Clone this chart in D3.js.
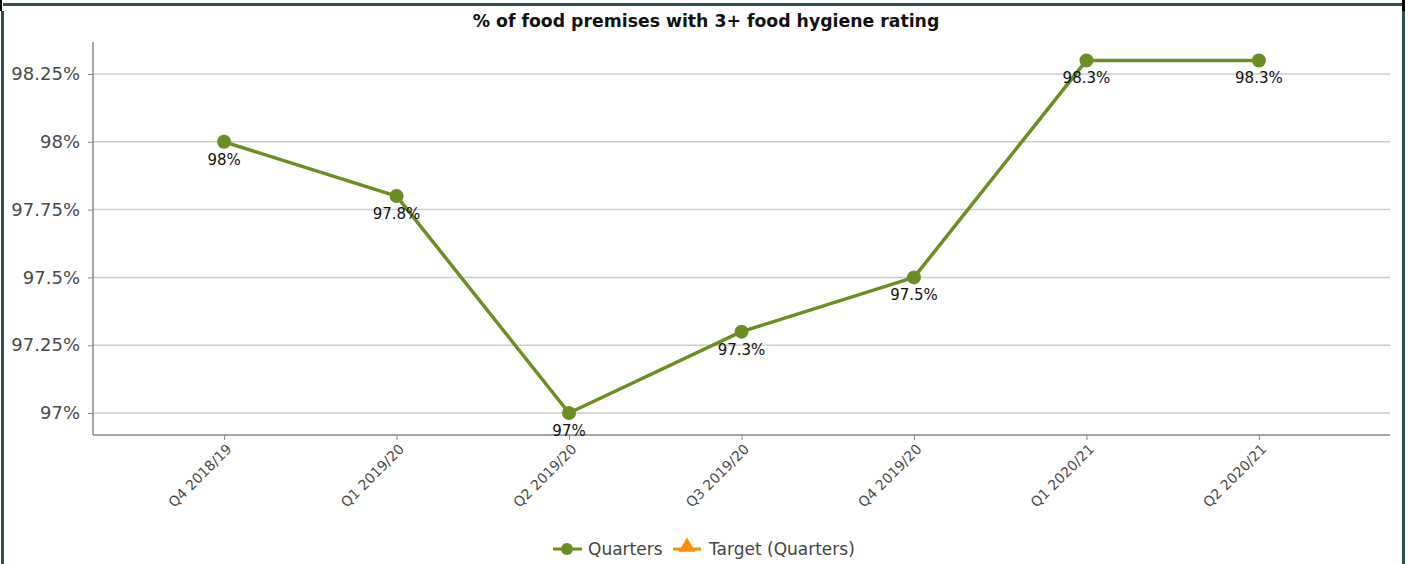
<!DOCTYPE html>
<html>
<head>
<meta charset="utf-8">
<script src="https://cdn.jsdelivr.net/npm/d3@7"></script>
<style>
  html, body { margin: 0; padding: 0; background: #fff; }
  svg { display: block; }
</style>
</head>
<body>
<svg id="chart" width="1413" height="564"></svg>
<script>
// Quarterly share of food premises rated 3 or above
const quarters = ["Q4 2018/19", "Q1 2019/20", "Q2 2019/20", "Q3 2019/20", "Q4 2019/20", "Q1 2020/21", "Q2 2020/21"];
const values = [98, 97.8, 97, 97.3, 97.5, 98.3, 98.3];
const yTicks = [97, 97.25, 97.5, 97.75, 98, 98.25];
const legendItems = ["Quarters", "Target (Quarters)"];
const title = "% of food premises with 3+ food hygiene rating";

const W = 1413, H = 564;
const plot = { left: 93, right: 1390, top: 42, bottom: 435 };
const green = "#6b8e23", orange = "#ff8c00", frame = "#2f4f4f";
const font = "'DejaVu Sans', Verdana, sans-serif";

const svg = d3.select("#chart");

const x = d3.scalePoint().domain(quarters).range([plot.left, plot.right]).padding(0.76);
const y = d3.scaleLinear().domain([96.919, 98.368]).range([plot.bottom, plot.top]);

const pct = v => d3.format("~g")(v) + "%";

// Horizontal gridlines
svg.append("g")
  .selectAll("line").data(yTicks).join("line")
  .attr("x1", plot.left).attr("x2", plot.right)
  .attr("y1", d => y(d)).attr("y2", d => y(d))
  .attr("stroke", "#cccccc").attr("stroke-width", 1.5);

// Y axis
const yAxis = svg.append("g")
  .attr("transform", `translate(${plot.left},0)`)
  .call(d3.axisLeft(y).tickValues(yTicks).tickFormat(pct).tickSize(5).tickPadding(8));
yAxis.select(".domain").attr("stroke", "#888").attr("stroke-width", 1.5)
  .attr("d", `M0,${plot.top}V${plot.bottom}`);
yAxis.selectAll(".tick line").attr("stroke", "#888");
yAxis.selectAll(".tick text").attr("fill", "#4a4a4a")
  .style("font-family", font).style("font-size", "18px");

// X axis
const xAxis = svg.append("g")
  .attr("transform", `translate(0,${plot.bottom})`)
  .call(d3.axisBottom(x).tickSize(5).tickSizeOuter(0));
xAxis.select(".domain").attr("stroke", "#888").attr("stroke-width", 1.5)
  .attr("d", `M${plot.left},0H${plot.right}`);
xAxis.selectAll(".tick line").attr("stroke", "#888");
xAxis.selectAll(".tick text")
  .attr("fill", "#4a4a4a")
  .style("font-family", font).style("font-size", "14px")
  .attr("text-anchor", "end")
  .attr("dy", null).attr("y", 0)
  .attr("transform", "translate(8,15) rotate(-45)");

// Series line
svg.append("path")
  .datum(values)
  .attr("fill", "none")
  .attr("stroke", green)
  .attr("stroke-width", 3.5)
  .attr("stroke-linejoin", "round")
  .attr("d", d3.line().x((d, i) => x(quarters[i])).y(d => y(d)));

// Markers
svg.append("g")
  .selectAll("circle").data(values).join("circle")
  .attr("cx", (d, i) => x(quarters[i])).attr("cy", d => y(d))
  .attr("r", 7).attr("fill", green);

// Value labels
svg.append("g")
  .selectAll("text").data(values).join("text")
  .attr("x", (d, i) => x(quarters[i]))
  .attr("y", d => y(d) + 23)
  .attr("text-anchor", "middle")
  .attr("fill", "#111")
  .style("font-family", font).style("font-size", "15px")
  .text(pct);

// Title
svg.append("text")
  .attr("x", 706).attr("y", 27)
  .attr("text-anchor", "middle")
  .attr("fill", "#111")
  .style("font-family", font).style("font-size", "17.3px").style("font-weight", "bold")
  .text(title);

// Legend
const lg = svg.append("g").attr("transform", "translate(0,549)");
lg.append("line").attr("x1", 553).attr("x2", 582).attr("y1", 0).attr("y2", 0)
  .attr("stroke", green).attr("stroke-width", 3);
lg.append("circle").attr("cx", 567).attr("cy", 0).attr("r", 6).attr("fill", green);
lg.append("text").attr("x", 588).attr("y", 6).attr("fill", "#444")
  .style("font-family", font).style("font-size", "17px").text(legendItems[0]);
lg.append("line").attr("x1", 673).attr("x2", 701).attr("y1", 0).attr("y2", 0)
  .attr("stroke", orange).attr("stroke-width", 3);
lg.append("path")
  .attr("transform", "translate(687,-2)")
  .attr("d", d3.symbol(d3.symbolTriangle, 120))
  .attr("fill", orange);
lg.append("text").attr("x", 709).attr("y", 6).attr("fill", "#444")
  .style("font-family", font).style("font-size", "17px").text(legendItems[1]);

// Frame around the panel
svg.append("rect").attr("x", 3).attr("y", 3).attr("width", 1400).attr("height", 3).attr("fill", frame);
svg.append("rect").attr("x", 1).attr("y", 11).attr("width", 3).attr("height", H - 11).attr("fill", frame);
svg.append("rect").attr("x", 1402).attr("y", 11).attr("width", 3).attr("height", H - 11).attr("fill", frame);
svg.append("rect").attr("x", 0).attr("y", 0).attr("width", 2).attr("height", 11).attr("fill", "#000");
svg.append("rect").attr("x", 1402).attr("y", 0).attr("width", 3).attr("height", 11).attr("fill", "#000");
</script>
</body>
</html>
